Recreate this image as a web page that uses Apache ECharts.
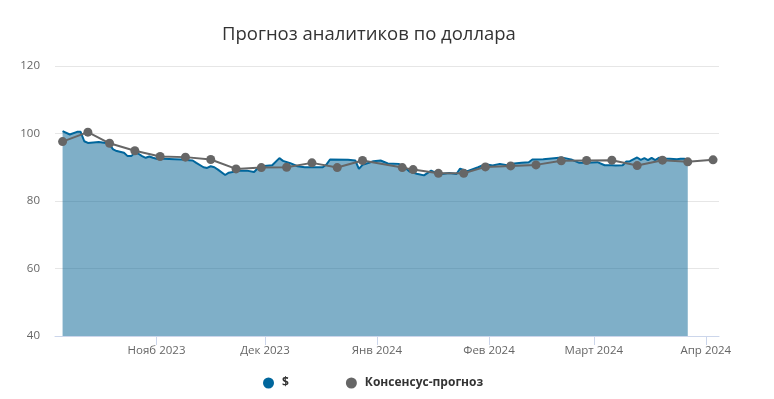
<!DOCTYPE html>
<html>
<head>
<meta charset="utf-8">
<script src="https://cdn.jsdelivr.net/npm/echarts@6/dist/echarts.min.js"></script>
<style>
  html, body { margin: 0; padding: 0; background: #fff; }
  #chart { width: 774px; height: 399px; }
</style>
</head>
<body>
<div id="chart"></div>
<script>
// курс доллара (дневные точки)
const usdDates = [
  '2023-10-06','2023-10-08','2023-10-10','2023-10-11','2023-10-12','2023-10-13','2023-10-16','2023-10-18',
  '2023-10-19','2023-10-20','2023-10-21','2023-10-23','2023-10-24','2023-10-25','2023-10-26','2023-10-27',
  '2023-10-28','2023-10-29','2023-10-30','2023-10-31','2023-11-01','2023-11-03','2023-11-06','2023-11-08',
  '2023-11-10','2023-11-11','2023-11-12','2023-11-14','2023-11-15','2023-11-16','2023-11-17','2023-11-18',
  '2023-11-20','2023-11-21','2023-11-24','2023-11-26','2023-11-28','2023-11-29','2023-11-30','2023-12-03',
  '2023-12-05','2023-12-06','2023-12-08','2023-12-10','2023-12-12','2023-12-14','2023-12-17','2023-12-18',
  '2023-12-19','2023-12-24','2023-12-26','2023-12-27','2023-12-28','2023-12-30','2023-12-31','2024-01-02',
  '2024-01-04','2024-01-07','2024-01-09','2024-01-10','2024-01-12','2024-01-14','2024-01-16','2024-01-17',
  '2024-01-19','2024-01-21','2024-01-23','2024-01-24','2024-01-26','2024-01-29','2024-01-31','2024-02-02',
  '2024-02-04','2024-02-06','2024-02-08','2024-02-10','2024-02-12','2024-02-13','2024-02-16','2024-02-19',
  '2024-02-21','2024-02-22','2024-02-24','2024-02-26','2024-02-28','2024-03-02','2024-03-04','2024-03-06',
  '2024-03-07','2024-03-09','2024-03-10','2024-03-11','2024-03-13','2024-03-14','2024-03-15','2024-03-16',
  '2024-03-17','2024-03-18','2024-03-19','2024-03-21','2024-03-24','2024-03-25','2024-03-26','2024-03-27'
];
const usdValues = [
  100.7, 99.7, 100.5, 100.5, 97.7, 97.2, 97.5, 97.2,
  96.7, 95.3, 94.8, 94.3, 93.3, 93.3, 94.3, 94.0,
  93.3, 92.8, 93.2, 92.8, 92.5, 92.5, 92.4, 92.3,
  92.1, 92.0, 91.3, 90.0, 89.8, 90.3, 90.0, 89.3,
  87.7, 88.4, 89.0, 89.0, 88.6, 89.7, 90.3, 90.6,
  92.7, 91.9, 91.2, 90.3, 90.0, 90.0, 90.0, 90.8,
  92.3, 92.2, 92.0, 89.5, 90.7, 91.4, 91.8, 92.0,
  91.1, 91.0, 89.7, 88.7, 88.1, 87.6, 89.0, 88.5,
  88.0, 88.3, 88.0, 89.6, 88.8, 90.0, 90.9, 90.5,
  91.0, 90.6, 91.1, 91.3, 91.5, 92.3, 92.4, 92.7,
  92.9, 92.7, 92.2, 91.3, 91.3, 91.5, 90.6, 90.6,
  90.5, 90.6, 91.7, 91.8, 92.9, 92.2, 92.7, 92.1,
  92.8, 92.1, 92.8, 92.6, 92.4, 92.5, 92.5, 92.3
];

// консенсус-прогноз (еженедельно)
const forecastDates = [
  '2023-10-06','2023-10-13','2023-10-19','2023-10-26','2023-11-02','2023-11-09','2023-11-16','2023-11-23',
  '2023-11-30','2023-12-07','2023-12-14','2023-12-21','2023-12-28','2024-01-08','2024-01-11','2024-01-18',
  '2024-01-25','2024-01-31','2024-02-07','2024-02-14','2024-02-21','2024-02-28','2024-03-06','2024-03-13',
  '2024-03-20','2024-03-27','2024-04-03'
];
const forecastValues = [
  97.6, 100.4, 97.1, 94.9, 93.2, 93.0, 92.3, 89.5,
  89.9, 90.0, 91.3, 89.9, 92.0, 89.9, 89.3, 88.2,
  88.2, 90.1, 90.4, 90.7, 91.9, 92.0, 92.1, 90.5,
  92.1, 91.6, 92.2
];

const monthTicks = ['2023-11-01', '2023-12-01', '2024-01-01', '2024-02-01', '2024-03-01', '2024-04-01'];
const monthLabels = ['Нояб 2023', 'Дек 2023', 'Янв 2024', 'Фев 2024', 'Март 2024', 'Апр 2024'];
const yTicks = [40, 60, 80, 100, 120];

const ts = s => +echarts.time.parse(s);
const tickValues = monthTicks.map(ts);

const chart = echarts.init(document.getElementById('chart'));
const option = {
  animation: false,
  color: ['#00669c', '#666666'],
  title: {
    text: 'Прогноз аналитиков по доллара',
    left: 217,
    top: 20,
    textStyle: {
      fontFamily: 'Open Sans',
      fontSize: 18.5,
      fontWeight: 'normal',
      color: '#333333'
    }
  },
  legend: {
    data: ['$', 'Консенсус-прогноз'],
    left: 258,
    top: 372,
    icon: 'circle',
    itemWidth: 11,
    itemHeight: 11,
    itemGap: 57,
    textStyle: {
      fontFamily: 'Open Sans',
      fontSize: 12,
      fontWeight: 'bold',
      color: '#333333',
      padding: [0, 0, 0, 3]
    }
  },
  grid: {
    left: 55,
    right: 55,
    top: 66,
    bottom: 63
  },
  xAxis: {
    type: 'value',
    min: ts('2023-10-03 21:40'),
    max: ts('2024-04-04 15:30'),
    axisLine: { lineStyle: { color: '#ccd6eb' } },
    axisTick: {
      show: true,
      length: 9,
      lineStyle: { color: '#ccd6eb' },
      customValues: tickValues
    },
    axisLabel: {
      customValues: tickValues,
      color: '#666666',
      fontFamily: 'Open Sans',
      fontSize: 11.5,
      margin: 9,
      formatter: function (val) {
        const i = tickValues.indexOf(+val);
        return i >= 0 ? monthLabels[i] : '';
      }
    },
    splitLine: { show: false }
  },
  yAxis: {
    type: 'value',
    min: yTicks[0],
    max: yTicks[yTicks.length - 1],
    interval: 20,
    axisLine: { show: false },
    axisTick: { show: false },
    axisLabel: {
      color: '#666666',
      fontFamily: 'Open Sans',
      fontSize: 11.5,
      margin: 15
    },
    splitLine: { lineStyle: { color: '#e6e6e6' } }
  },
  series: [
    {
      name: '$',
      type: 'line',
      showSymbol: false,
      data: usdDates.map((d, i) => [ts(d), usdValues[i]]),
      lineStyle: { width: 2, color: '#00669c' },
      areaStyle: { origin: 'start', color: 'rgba(0,96,145,0.5)', opacity: 1 },
      z: 2
    },
    {
      name: 'Консенсус-прогноз',
      type: 'line',
      symbol: 'circle',
      symbolSize: 9,
      data: forecastDates.map((d, i) => [ts(d), forecastValues[i]]),
      lineStyle: { width: 2, color: '#666666' },
      itemStyle: { color: '#666666' },
      z: 3
    }
  ]
};
chart.setOption(option);
</script>
</body>
</html>
